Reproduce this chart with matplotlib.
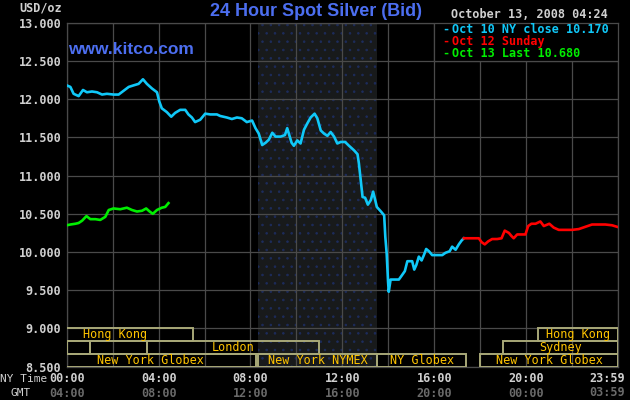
import matplotlib
matplotlib.use('Agg')
import matplotlib.pyplot as plt
from matplotlib.patches import Rectangle

# Oct 10, NY close 10.170 (hours NY time, USD/oz)
oct10_hours = [0.0, 0.16, 0.3, 0.52, 0.71, 0.88, 1.1, 1.32, 1.54, 1.75, 2.04, 2.26,
               2.48, 2.7, 2.91, 3.13, 3.32, 3.49, 3.71, 3.93, 4.03, 4.14, 4.36, 4.55,
               4.72, 4.94, 5.16, 5.3, 5.45, 5.59, 5.81, 6.03, 6.25, 6.54, 6.68, 6.97,
               7.19, 7.41, 7.62, 7.84, 8.07, 8.22, 8.36, 8.51, 8.66, 8.8, 8.95, 9.09,
               9.31, 9.5, 9.6, 9.67, 9.79, 9.89, 10.04, 10.18, 10.33, 10.47, 10.62,
               10.79, 10.91, 11.06, 11.2, 11.35, 11.49, 11.64, 11.78, 11.93, 12.12,
               12.29, 12.51, 12.66, 12.72, 12.8, 12.88, 12.99, 13.11, 13.24, 13.34,
               13.43, 13.5, 13.68, 13.82, 13.87, 13.93, 13.99, 14.02, 14.1, 14.25,
               14.46, 14.58, 14.72, 14.83, 14.93, 15.04, 15.13, 15.22, 15.33, 15.45,
               15.55, 15.65, 15.77, 15.91, 16.13, 16.35, 16.49, 16.67, 16.78, 16.93,
               17.07, 17.19, 17.29]
oct10_price = [12.18, 12.16, 12.07, 12.04, 12.12, 12.09, 12.10, 12.09, 12.06, 12.07,
               12.06, 12.06, 12.11, 12.16, 12.18, 12.20, 12.26, 12.20, 12.14, 12.09,
               11.97, 11.88, 11.83, 11.77, 11.82, 11.86, 11.86, 11.80, 11.76, 11.70,
               11.73, 11.81, 11.80, 11.80, 11.78, 11.76, 11.74, 11.76, 11.75, 11.70,
               11.72, 11.62, 11.55, 11.40, 11.43, 11.47, 11.56, 11.51, 11.51, 11.53,
               11.62, 11.55, 11.43, 11.39, 11.46, 11.42, 11.60, 11.68, 11.76, 11.81,
               11.75, 11.59, 11.55, 11.52, 11.57, 11.51, 11.42, 11.44, 11.44, 11.39,
               11.33, 11.28, 11.16, 10.94, 10.72, 10.71, 10.62, 10.68, 10.79, 10.68,
               10.59, 10.53, 10.48, 10.20, 9.98, 9.61, 9.48, 9.64, 9.64, 9.64, 9.69,
               9.75, 9.88, 9.88, 9.88, 9.77, 9.83, 9.94, 9.89, 9.96, 10.04, 10.01,
               9.96, 9.96, 9.96, 9.99, 10.01, 10.07, 10.03, 10.10, 10.15, 10.18]

# Oct 12, Sunday
oct12_hours = [17.29, 17.94, 18.06, 18.2, 18.35, 18.52, 18.74, 18.93, 19.07, 19.25,
               19.36, 19.46, 19.61, 19.75, 19.97, 20.09, 20.23, 20.41, 20.62, 20.77,
               21.01, 21.2, 21.42, 21.71, 22.0, 22.29, 22.58, 22.87, 23.16, 23.45,
               23.74, 23.96]
oct12_price = [10.18, 10.18, 10.13, 10.10, 10.14, 10.17, 10.17, 10.18, 10.28, 10.25,
               10.21, 10.18, 10.23, 10.23, 10.23, 10.34, 10.37, 10.37, 10.40, 10.34,
               10.37, 10.32, 10.29, 10.29, 10.29, 10.30, 10.33, 10.36, 10.36, 10.36,
               10.35, 10.33]

# Oct 13, last 10.680
oct13_hours = [0.0, 0.16, 0.38, 0.52, 0.67, 0.86, 1.03, 1.25, 1.46, 1.68, 1.83, 2.04,
               2.33, 2.62, 2.84, 3.06, 3.28, 3.46, 3.61, 3.75, 3.93, 4.14, 4.29, 4.43]
oct13_price = [10.35, 10.36, 10.37, 10.38, 10.41, 10.47, 10.43, 10.43, 10.42, 10.46,
               10.55, 10.57, 10.56, 10.58, 10.55, 10.53, 10.54, 10.57, 10.53, 10.50,
               10.55, 10.58, 10.59, 10.64]

y_ticks = [8.5, 9.0, 9.5, 10.0, 10.5, 11.0, 11.5, 12.0, 12.5, 13.0]
x_tick_hours = [0, 4, 8, 12, 16, 20, 23.983]
ny_labels = ['00:00', '04:00', '08:00', '12:00', '16:00', '20:00', '23:59']
gmt_labels = ['04:00', '08:00', '12:00', '16:00', '20:00', '00:00', '03:59']

# market sessions: (row, start hour, end hour, name)
sessions = [
    (0, -1.3, 5.5, 'Hong Kong'),
    (0, 20.5, 24.0, 'Hong Kong'),
    (1, 0.0, 1.0, ''),
    (1, 1.0, 3.5, ''),
    (1, 3.5, 11.0, 'London'),
    (1, 19.0, 24.0, 'Sydney'),
    (2, -1.0, 8.25, 'New York Globex'),
    (2, 8.333, 13.5, 'New York NYMEX'),
    (2, 13.5, 17.4, 'NY Globex'),
    (2, 18.0, 24.0, 'New York Globex'),
]
nymex_open, nymex_close = 8.333, 13.5

legend_rows = [('Oct 10 NY close 10.170', '#10c8f8'),
               ('Oct 12 Sunday', '#ff0000'),
               ('Oct 13 Last 10.680', '#00ee00')]

mono = 'DejaVu Sans Mono'
light = '#d0d0d0'
grid_c = '#4a4a4a'
plt.rcParams['hatch.linewidth'] = 0.6

fig = plt.figure(figsize=(6.3, 4.0), dpi=100, facecolor='black')
ax = fig.add_axes([66.7 / 630, 1 - 366.7 / 400, (618 - 66.7) / 630, 344 / 400])
ax.set_facecolor('black')
ax.set_xlim(0, 24)
ax.set_ylim(8.5, 13.0)

# NYMEX hours shading
ax.add_patch(Rectangle((nymex_open, 8.5), nymex_close - nymex_open, 4.5,
                       facecolor='#181a1b', edgecolor='#1d2c5c', hatch='..',
                       linewidth=0, zorder=0))

ax.set_xticks(range(0, 25, 2))
ax.set_xticklabels([])
ax.set_yticks(y_ticks)
ax.set_yticklabels(['%.3f' % v for v in y_ticks], family=mono, fontsize=8.5,
                   fontweight='bold', color=light)
ax.tick_params(length=0, pad=4)
ax.grid(True, color=grid_c, linewidth=0.9, zorder=1)
ax.set_axisbelow(True)
for s in ax.spines.values():
    s.set_color(grid_c)
    s.set_linewidth(0.9)

# x labels, NY time and GMT (last pair sits right-aligned at the edge)
tr = ax.get_xaxis_transform()
for h, ny, gm in zip(x_tick_hours, ny_labels, gmt_labels):
    if h > 23:
        kw = dict(transform=fig.transFigure, ha='right', va='center')
        xs = 625 / 630
        y1, y2 = 1 - 378.5 / 400, 1 - 393 / 400
    else:
        kw = dict(transform=tr, ha='center', va='center')
        xs = h
        y1, y2 = -0.034, -0.077
    ax.text(xs, y1, ny, family=mono, fontsize=8.5, fontweight='bold', color=light, **kw)
    ax.text(xs, y2, gm, family=mono, fontsize=8.5, fontweight='bold', color='#6a6a6a', **kw)
fig.text(24 / 630, 1 - 378.5 / 400, 'NY Time', ha='center', va='center', family=mono,
         fontsize=8, color=light)
fig.text(21 / 630, 1 - 393 / 400, 'GMT', ha='center', va='center', family=mono,
         fontsize=8, color=light)

# session bars
row_h = 0.5 / 3
for row, start, end, name in sessions:
    y0 = 9.0 - (row + 1) * row_h
    ax.add_patch(Rectangle((start, y0), end - start, row_h, facecolor='none',
                           edgecolor='#a8a878', linewidth=1.4, zorder=3))
    if name:
        ax.text((start + end) / 2, y0 + row_h / 2, name, ha='center', va='center',
                family=mono, fontsize=8.5, color='#ffc400', zorder=4)

# price lines
ax.plot(oct10_hours, oct10_price, color='#10c8f8', linewidth=1.9, zorder=5)
ax.plot(oct12_hours, oct12_price, color='#ff0000', linewidth=1.9, zorder=5)
ax.plot(oct13_hours, oct13_price, color='#00ee00', linewidth=1.9, zorder=5)

# legend box
ax.add_patch(Rectangle((16, 12.5), 8, 0.5, facecolor='black', edgecolor=grid_c,
                       linewidth=0.9, zorder=6))
for i, (txt, c) in enumerate(legend_rows):
    yy = 1 - (29.3 + 12 * i) / 400
    fig.text(442 / 630, yy, '-', ha='left', va='center', family=mono, fontsize=8.5,
             fontweight='bold', color=c, zorder=7)
    fig.text(451.5 / 630, yy, txt, ha='left', va='center', family=mono, fontsize=8.5,
             fontweight='bold', color=c, zorder=7)

# header texts
fig.text(316 / 630, 1 - 12 / 400, '24 Hour Spot Silver (Bid)', ha='center', va='center',
         family='Liberation Sans', fontsize=13, fontweight='bold', color='#4c6ef0')
fig.text(68 / 630, 1 - 49 / 400, 'www.kitco.com', ha='left', va='center',
         family='Liberation Sans', fontsize=12.5, fontweight='bold', color='#4c6ef0')
fig.text(62 / 630, 1 - 8 / 400, 'USD/oz', ha='right', va='center', family=mono,
         fontsize=8.5, fontweight='bold', color=light)
fig.text(608 / 630, 1 - 15 / 400, 'October 13, 2008 04:24', ha='right', va='center',
         family=mono, fontsize=8.5, fontweight='bold', color=light)

fig.savefig('out.png', dpi=100, facecolor='black')
